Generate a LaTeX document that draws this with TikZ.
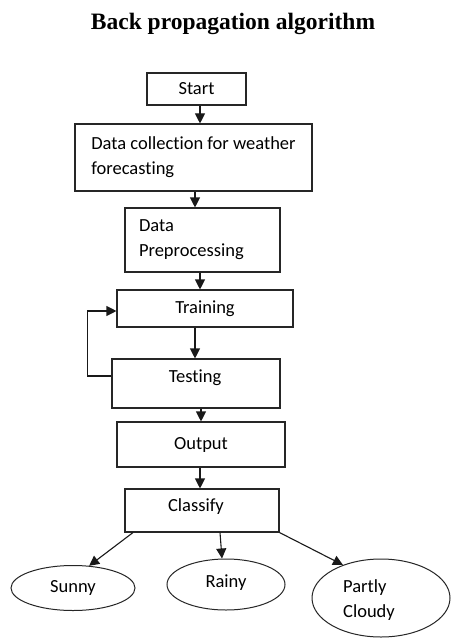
\documentclass[tikz,border=0pt]{standalone}
\usepackage{fontspec}
\setmainfont[Ligatures=NoCommon]{Carlito}
\newfontfamily\titlefont{Liberation Serif}
\usetikzlibrary{shapes.geometric,arrows.meta}
\begin{document}
\begin{tikzpicture}[x=1pt,y=-1pt,
  box/.style={draw=black!85, line width=1.1pt, inner sep=0pt, font=\fontsize{18.5}{25}\selectfont},
  oval/.style={draw=black!85, line width=1pt, ellipse, inner sep=0pt, font=\fontsize{18.5}{25}\selectfont},
  txt/.style={inner sep=0pt, font=\fontsize{18.5}{25}\selectfont},
  arr/.style={draw=black!90, line width=1.1pt, -{Triangle[length=10pt,width=10pt]}}]
\useasboundingbox (0,0) rectangle (451,639);
\fill[white] (0,0) rectangle (451,639);
\node[anchor=base, inner sep=0pt, font=\titlefont\bfseries\fontsize{23.5}{28}\selectfont] (title) at (233,30) {Back propagation algorithm};

\node[box, minimum width=99pt, minimum height=32pt] (start) at (196.5,89) {Start};
\node[box, minimum width=237pt, minimum height=67pt, align=left] (dc) at (193.5,157.5) {Data collection for weather\\forecasting};
\node[box, minimum width=155pt, minimum height=64pt, text width=127pt, inner xsep=14pt, align=left] (dp) at (202.5,240) {Data\\Preprocessing};
\node[box, minimum width=176pt, minimum height=37pt] (train) at (205,308.5) {Training};
\node[box, minimum width=168pt, minimum height=49pt] (test) at (196,383.5) {};
\node[txt] (testtxt) at (195,378) {Testing};
\node[box, minimum width=168pt, minimum height=45pt] (out) at (201,444.5) {Output};
\node[box, minimum width=154pt, minimum height=43pt] (cls) at (202,510.5) {};
\node[txt] (clstxt) at (196,507) {Classify};

\node[oval, minimum width=124pt, minimum height=45pt] (sunny) at (73,588) {Sunny};
\node[oval, minimum width=118pt, minimum height=51pt] (rainy) at (226,584.5) {};
\node[txt] (rainytxt) at (226,583) {Rainy};
\node[oval, minimum width=138pt, minimum height=78pt] (pc) at (381,598) {};
\node[txt, align=left] (pctxt) at (369,600) {Partly\\Cloudy};

\coordinate (x200) at (200,0);
\coordinate (x195) at (195,0);
\coordinate (x201) at (201,0);

\draw[arr] (start.south -| x200) -- (dc.north -| x200);
\draw[arr] (dc.south -| x195) -- (dp.north -| x195);
\draw[arr] (dp.south -| x200) -- (train.north -| x200);
\draw[arr] (train.south -| x195) -- (test.north -| x195);
\draw[arr] (test.south -| x201) -- (out.north -| x201);
\draw[arr] (out.south -| x200) -- (cls.north -| x200);
\draw[arr] ([yshift=7.5pt]test.west) -- ++(-24,0) |- ([yshift=-2.5pt]train.west);

\draw[arr] ([xshift=-69pt]cls.south) -- (sunny.54);
\draw[arr] ([xshift=18pt]cls.south) -- ([xshift=-4pt]rainy.north);
\draw[arr] (cls.south east) -- (pc.139);
\end{tikzpicture}
\end{document}
